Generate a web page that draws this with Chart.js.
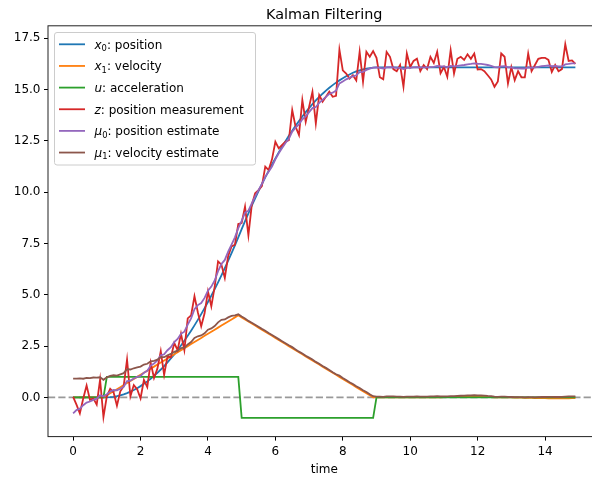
<!DOCTYPE html>
<html><head><meta charset="utf-8">
<script src="https://cdn.jsdelivr.net/npm/chart.js@4.4.1/dist/chart.umd.min.js"></script>
<style>html,body{margin:0;padding:0;background:#fff;overflow:hidden;width:592px;height:478px}canvas{display:block}</style>
</head><body>
<canvas id="c" width="610" height="478"></canvas>
<script>
const time = [
0,0.1,0.2,0.3,0.4,0.5,0.6,0.7,0.8,0.9,
1,1.1,1.2,1.3,1.4,1.5,1.6,1.7,1.8,1.9,
2,2.1,2.2,2.3,2.4,2.5,2.6,2.7,2.8,2.9,
3,3.1,3.2,3.3,3.4,3.5,3.6,3.7,3.8,3.9,
4,4.1,4.2,4.3,4.4,4.5,4.6,4.7,4.8,4.9,
5,5.1,5.2,5.3,5.4,5.5,5.6,5.7,5.8,5.9,
6,6.1,6.2,6.3,6.4,6.5,6.6,6.7,6.8,6.9,
7,7.1,7.2,7.3,7.4,7.5,7.6,7.7,7.8,7.9,
8,8.1,8.2,8.3,8.4,8.5,8.6,8.7,8.8,8.9,
9,9.1,9.2,9.3,9.4,9.5,9.6,9.7,9.8,9.9,
10,10.1,10.2,10.3,10.4,10.5,10.6,10.7,10.8,10.9,
11,11.1,11.2,11.3,11.4,11.5,11.6,11.7,11.8,11.9,
12,12.1,12.2,12.3,12.4,12.5,12.6,12.7,12.8,12.9,
13,13.1,13.2,13.3,13.4,13.5,13.6,13.7,13.8,13.9,
14,14.1,14.2,14.3,14.4,14.5,14.6,14.7,14.8,14.9];

const position = [
0,0,0,0,0,0,0,0,0,0,
0,0.01,0.03,0.06,0.10,0.15,0.21,0.28,0.36,0.45,
0.55,0.66,0.78,0.91,1.05,1.20,1.36,1.53,1.71,1.90,
2.10,2.31,2.53,2.76,3.00,3.25,3.51,3.78,4.06,4.35,
4.65,4.96,5.28,5.61,5.95,6.30,6.66,7.03,7.41,7.80,
8.20,8.59,8.97,9.34,9.70,10.05,10.39,10.72,11.04,11.35,
11.65,11.94,12.22,12.49,12.75,13.00,13.24,13.47,13.69,13.90,
14.10,14.29,14.47,14.64,14.80,14.95,15.09,15.22,15.34,15.45,
15.55,15.65,15.74,15.82,15.89,15.94,15.99,16.02,16.05,16.07,
16.08,16.08,16.08,16.08,16.08,16.08,16.08,16.08,16.08,16.08,
16.08,16.08,16.08,16.08,16.08,16.08,16.08,16.08,16.08,16.08,
16.08,16.08,16.08,16.08,16.08,16.08,16.08,16.08,16.08,16.08,
16.08,16.08,16.08,16.08,16.08,16.08,16.08,16.08,16.08,16.08,
16.08,16.08,16.08,16.08,16.08,16.08,16.08,16.08,16.08,16.08,
16.08,16.08,16.08,16.08,16.08,16.08,16.08,16.08,16.08,16.08];

const velocity = [
0,0,0,0,0,0,0,0,0,0,
0.1,0.2,0.3,0.4,0.5,0.6,0.7,0.8,0.9,1.0,
1.1,1.2,1.3,1.4,1.5,1.6,1.7,1.8,1.9,2.0,
2.1,2.2,2.3,2.4,2.5,2.6,2.7,2.8,2.9,3.0,
3.1,3.2,3.3,3.4,3.5,3.6,3.7,3.8,3.9,4.0,
3.9,3.8,3.7,3.6,3.5,3.4,3.3,3.2,3.1,3.0,
2.9,2.8,2.7,2.6,2.5,2.4,2.3,2.2,2.1,2.0,
1.9,1.8,1.7,1.6,1.5,1.4,1.3,1.2,1.1,1.0,
0.9,0.8,0.7,0.6,0.5,0.4,0.3,0.2,0.1,0.0,
0,0,0,0,0,0,0,0,0,0,
0,0,0,0,0,0,0,0,0,0,
0.01,0.01,0.01,0.02,0.02,0.02,0.02,0.02,0.02,0.02,
0.02,0.02,0.01,0.01,0.01,0,0,0,0,0,
0,-0.01,-0.01,-0.01,-0.02,-0.02,-0.02,-0.03,-0.03,-0.03,
-0.03,-0.04,-0.04,-0.04,-0.04,-0.04,-0.04,-0.04,-0.03,-0.03];

const acceleration = [
0,0,0,0,0,0,0,0,0,0,
1,1,1,1,1,1,1,1,1,1,
1,1,1,1,1,1,1,1,1,1,
1,1,1,1,1,1,1,1,1,1,
1,1,1,1,1,1,1,1,1,1,
-1,-1,-1,-1,-1,-1,-1,-1,-1,-1,
-1,-1,-1,-1,-1,-1,-1,-1,-1,-1,
-1,-1,-1,-1,-1,-1,-1,-1,-1,-1,
-1,-1,-1,-1,-1,-1,-1,-1,-1,-1,
0,0,0,0,0,0,0,0,0,0,
0,0,0,0,0,0,0,0,0,0,
0,0,0,0,0,0,0,0,0,0,
0,0,0,0,0,0,0,0,0,0,
0,0,0,0,0,0,0,0,0,0,
0,0,0,0,0,0,0,0,0,0];

const measurement = [
0.03,-0.35,-0.78,-0.05,0.58,-0.12,-0.05,-0.35,0.87,-0.96,
0.05,0.42,0.25,-0.4,0.3,0.55,1.85,0.05,0.6,0.4,
-0.05,0.85,0.5,1.7,0.95,1.4,2.25,1.1,2.0,1.95,
2.65,2.3,3.1,2.3,3.85,4.0,4.93,4.15,3.47,4.1,
5.17,4.44,5.4,6.63,6.47,5.82,6.9,7.36,7.44,8.45,
8.5,9.3,7.9,9.38,9.95,10.1,10.3,11.25,11.08,11.6,
12.46,12.14,12.3,12.46,12.54,14.0,13.19,12.79,14.49,13.43,
14.16,14.89,13.35,14.73,14.41,14.65,14.9,14.65,14.7,16.95,
15.94,15.78,15.54,15.7,15.45,16.84,15.38,16.84,16.6,16.88,
16.55,15.6,15.5,16.84,16.6,16.0,15.9,16.2,15.14,16.76,
16.1,16.4,16.51,15.9,16.2,16.0,16.6,16.3,16.84,15.8,
16.1,15.62,16.92,15.78,16.5,16.6,16.45,16.72,16.5,16.76,
15.98,16.0,15.9,15.7,15.5,15.14,15.4,16.76,16.6,15.3,
16.1,15.46,15.9,15.6,15.6,16.76,15.9,16.2,16.5,16.55,
16.55,16.45,15.86,16.2,15.9,16.0,17.21,16.4,16.42,16.25];

const positionEstimate = [
-0.78,-0.62,-0.55,-0.38,-0.25,-0.2,-0.12,-0.06,0.1,0.05,
0.15,0.28,0.36,0.34,0.42,0.52,0.8,0.82,0.92,1.0,
1.05,1.2,1.3,1.55,1.65,1.8,2.05,2.1,2.3,2.45,
2.7,2.85,3.1,3.2,3.55,3.85,4.3,4.5,4.6,4.85,
5.2,5.4,5.7,6.15,6.5,6.7,7.1,7.45,7.8,8.25,
8.6,9.0,9.1,9.45,9.8,10.1,10.4,10.75,11.0,11.25,
11.6,11.9,12.15,12.4,12.6,12.95,13.15,13.3,13.55,13.7,
13.9,14.1,14.15,14.35,14.5,14.65,14.8,14.85,14.95,15.3,
15.4,15.5,15.57,15.65,15.7,15.85,15.86,15.96,16.02,16.07,
16.08,16.06,16.03,16.08,16.1,16.08,16.06,16.06,16.0,16.06,
16.06,16.08,16.1,16.08,16.08,16.08,16.1,16.11,16.15,16.13,
16.13,16.1,16.16,16.13,16.16,16.18,16.2,16.23,16.25,16.28,
16.26,16.25,16.23,16.2,16.16,16.1,16.08,16.13,16.14,16.08,
16.08,16.04,16.04,16.03,16.03,16.08,16.06,16.08,16.11,16.14,
16.16,16.18,16.14,16.15,16.13,16.13,16.23,16.25,16.28,16.28];

const velocityEstimate = [
0.92,0.92,0.93,0.91,0.95,0.94,0.97,0.96,0.98,0.86,
0.98,1.05,1.08,1.06,1.12,1.18,1.38,1.36,1.42,1.46,
1.5,1.6,1.64,1.76,1.78,1.84,1.96,1.96,2.05,2.12,
2.22,2.28,2.4,2.42,2.58,2.7,2.9,2.98,3.02,3.12,
3.3,3.36,3.48,3.66,3.78,3.8,3.9,3.97,4.0,4.05,
3.94,3.85,3.73,3.64,3.54,3.44,3.34,3.25,3.14,3.04,
2.94,2.84,2.74,2.64,2.54,2.45,2.34,2.23,2.14,2.03,
1.94,1.85,1.73,1.64,1.53,1.44,1.34,1.23,1.13,1.06,
0.95,0.85,0.74,0.65,0.54,0.46,0.35,0.26,0.15,0.06,
0.04,0.04,0.03,0.05,0.05,0.05,0.04,0.04,0.03,0.04,
0.04,0.04,0.05,0.04,0.04,0.04,0.05,0.05,0.06,0.05,
0.05,0.05,0.06,0.06,0.07,0.08,0.09,0.1,0.1,0.11,
0.1,0.1,0.09,0.07,0.06,0.04,0.03,0.04,0.04,0.03,
0.02,0.01,0.01,0.01,0.0,0.01,0.01,0.0,0.01,0.02,
0.02,0.03,0.03,0.02,0.02,0.03,0.04,0.05,0.05,0.05];

const xTicks = [0,2,4,6,8,10,12,14];
const yTicks = [0,2.5,5,7.5,10,12.5,15,17.5];

const seriesLabels = ['x₀: position','x₁: velocity','u: acceleration','z: position measurement','μ₀: position estimate','μ₁: velocity estimate'];
const legendSymbols = ['x','x','u','z','μ','μ'];
const legendSubscripts = ['0','1','','','0','1'];
const legendTexts = [': position',': velocity',': acceleration',': position measurement',': position estimate',': velocity estimate'];
const seriesValues = [position, velocity, acceleration, measurement, positionEstimate, velocityEstimate];
const seriesColors = ['#1f77b4','#ff7f0e','#2ca02c','#d62728','#9467bd','#8c564b'];

const FONT = '"DejaVu Sans", "Liberation Sans", sans-serif';

const datasets = seriesValues.map((vals, i) => ({
  label: seriesLabels[i],
  data: time.map((t, k) => ({x: t, y: vals[k]})),
  borderColor: seriesColors[i],
  backgroundColor: seriesColors[i],
  borderWidth: 1.8,
  pointRadius: 0,
  tension: 0,
  fill: false,
  order: seriesValues.length - 1 - i
}));

const zeroLine = {
  id: 'zeroLine',
  beforeDatasetsDraw(chart) {
    const {ctx, chartArea} = chart;
    const y = chart.scales.y.getPixelForValue(0);
    ctx.save();
    ctx.strokeStyle = '#999999';
    ctx.lineWidth = 1.8;
    ctx.setLineDash([7.2, 3.1]);
    ctx.beginPath();
    ctx.moveTo(chartArea.left, y);
    ctx.lineTo(chartArea.right, y);
    ctx.stroke();
    ctx.restore();
  }
};

const frameAndText = {
  id: 'frameAndText',
  afterDraw(chart) {
    const {ctx, chartArea} = chart;
    ctx.save();
    ctx.strokeStyle = '#222';
    ctx.lineWidth = 1;
    ctx.strokeRect(chartArea.left, chartArea.top, chartArea.right - chartArea.left, chartArea.bottom - chartArea.top);
    ctx.fillStyle = '#000';
    ctx.font = '14.4px ' + FONT;
    ctx.textAlign = 'center';
    ctx.textBaseline = 'alphabetic';
    ctx.fillText('Kalman Filtering', (chartArea.left + chartArea.right) / 2, 18.5);
    const bx = 54.5, by = 32.5, bw = 201, bh = 132.5, r = 2.5;
    ctx.beginPath();
    ctx.moveTo(bx + r, by);
    ctx.lineTo(bx + bw - r, by);
    ctx.arcTo(bx + bw, by, bx + bw, by + r, r);
    ctx.lineTo(bx + bw, by + bh - r);
    ctx.arcTo(bx + bw, by + bh, bx + bw - r, by + bh, r);
    ctx.lineTo(bx + r, by + bh);
    ctx.arcTo(bx, by + bh, bx, by + bh - r, r);
    ctx.lineTo(bx, by + r);
    ctx.arcTo(bx, by, bx + r, by, r);
    ctx.closePath();
    ctx.fillStyle = 'rgba(255,255,255,0.8)';
    ctx.fill();
    ctx.strokeStyle = '#cccccc';
    ctx.lineWidth = 1;
    ctx.stroke();
    ctx.textAlign = 'left';
    chart.data.datasets.forEach((ds, i) => {
      const yc = 44.3 + i * 21.65;
      ctx.strokeStyle = ds.borderColor;
      ctx.lineWidth = 1.8;
      ctx.beginPath();
      ctx.moveTo(59, yc);
      ctx.lineTo(85, yc);
      ctx.stroke();
      ctx.fillStyle = '#000';
      let x = 94.5;
      const base = yc + 4.4;
      ctx.font = 'italic 12px ' + FONT;
      ctx.fillText(legendSymbols[i], x, base);
      x += ctx.measureText(legendSymbols[i]).width;
      if (legendSubscripts[i]) {
        ctx.font = '8.4px ' + FONT;
        ctx.fillText(legendSubscripts[i], x, base + 2.4);
        x += ctx.measureText(legendSubscripts[i]).width;
      }
      ctx.font = '12px ' + FONT;
      ctx.fillText(legendTexts[i], x, base);
    });
    ctx.restore();
  }
};

new Chart(document.getElementById('c'), {
  type: 'line',
  data: { datasets },
  options: {
    responsive: false,
    animation: false,
    devicePixelRatio: 1,
    layout: { padding: { top: 25.8, right: 9.5, left: 0, bottom: 0 } },
    plugins: { legend: { display: false }, tooltip: { enabled: false }, title: { display: false } },
    scales: {
      x: {
        type: 'linear',
        min: -0.745,
        max: 15.645,
        afterBuildTicks: s => { s.ticks = xTicks.map(v => ({value: v})); },
        afterFit: s => { s.height = 41.4; },
        ticks: { font: { family: FONT, size: 12 }, color: '#000', padding: 4, maxRotation: 0, autoSkip: false, callback: v => String(v) },
        grid: { display: true, drawOnChartArea: false, drawTicks: true, tickLength: 4, tickColor: '#000', tickWidth: 1 },
        border: { display: false },
        title: { display: true, text: 'time', color: '#000', font: { family: FONT, size: 12 }, padding: { top: 0, bottom: 1 } }
      },
      y: {
        type: 'linear',
        min: -1.91,
        max: 18.11,
        afterBuildTicks: s => { s.ticks = yTicks.map(v => ({value: v})); },
        afterFit: s => { s.width = 48; },
        ticks: { font: { family: FONT, size: 12 }, color: '#000', padding: 3.5, autoSkip: false, callback: v => Number(v).toFixed(1) },
        grid: { display: true, drawOnChartArea: false, drawTicks: true, tickLength: 4, tickColor: '#000', tickWidth: 1 },
        border: { display: false }
      }
    }
  },
  plugins: [zeroLine, frameAndText]
});
</script>
</body></html>
